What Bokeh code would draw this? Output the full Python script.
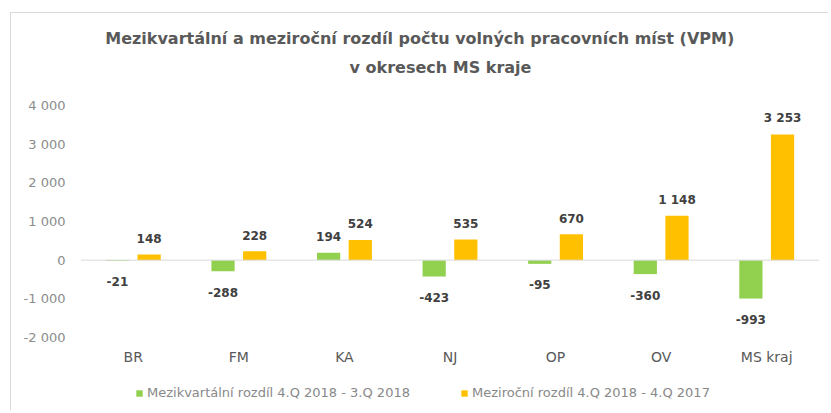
from bokeh.plotting import figure
from bokeh.models import (ColumnDataSource, FactorRange, FixedTicker, CustomJSTickFormatter,
                          Span, Label, Legend, LegendItem, Range1d)
from bokeh.transform import dodge
from bokeh.core.properties import value
from bokeh.embed import file_html
from bokeh.resources import INLINE

# ---- data ----
categories = ["BR", "FM", "KA", "NJ", "OP", "OV", "MS kraj"]
mezikvartalni = [-21, -288, 194, -423, -95, -360, -993]
mezirocni = [148, 228, 524, 535, 670, 1148, 3253]
y_ticks = [-2000, -1000, 0, 1000, 2000, 3000, 4000]
series_names = ["Mezikvartální rozdíl 4.Q 2018 - 3.Q 2018", "Meziroční rozdíl 4.Q 2018 - 4.Q 2017"]
title_lines = ["Mezikvartální a meziroční rozdíl počtu volných pracovních  míst (VPM)",
               "v okresech MS kraje"]

GREEN = "#92D050"
YELLOW = "#FFC000"
FONT = "DejaVu Sans"

# ---- layout (pixels) ----
W, H = 818, 398
AXIS_MIN, AXIS_MAX = -2000, 4000      # value axis span shown by the ticks
PLOT_TOP_PX, PLOT_BOTTOM_PX = 92, 324  # where AXIS_MAX / AXIS_MIN sit inside the canvas
per_px = (AXIS_MAX - AXIS_MIN) / (PLOT_BOTTOM_PX - PLOT_TOP_PX)
y_start = AXIS_MIN - (H - PLOT_BOTTOM_PX) * per_px
y_end = AXIS_MAX + PLOT_TOP_PX * per_px


def fmt(v):
    return f"{v:,}".replace(",", " ")


src = ColumnDataSource(dict(
    cat=categories,
    v1=mezikvartalni,
    v2=mezirocni,
    t1=[fmt(v) for v in mezikvartalni],
    t2=[fmt(v) for v in mezirocni],
    o1=[-16 if v >= 0 else 21 for v in mezikvartalni],
    o2=[-16 if v >= 0 else 21 for v in mezirocni],
))

p = figure(width=W, height=H, x_range=FactorRange(factors=categories),
           y_range=Range1d(y_start, y_end), output_backend="svg", toolbar_location=None,
           min_border_left=69, min_border_right=10, min_border_top=0, min_border_bottom=0)
p.styles = {"border-top": "1px solid #d9d9d9", "border-left": "1px solid #d9d9d9",
            "margin-top": "12px", "margin-left": "10px"}
p.xgrid.visible = False
p.ygrid.visible = False
p.outline_line_color = None
p.background_fill_color = "white"
p.border_fill_color = "white"

r1 = p.vbar(x=dodge("cat", -0.15, range=p.x_range), top="v1", width=0.22, source=src,
            fill_color=GREEN, line_color=None)
r2 = p.vbar(x=dodge("cat", 0.15, range=p.x_range), top="v2", width=0.22, source=src,
            fill_color=YELLOW, line_color=None)

p.add_layout(Span(location=0, dimension="width", line_color="#d9d9d9", line_width=1))

for col, tcol, ocol, dx in (("v1", "t1", "o1", -0.15), ("v2", "t2", "o2", 0.15)):
    p.text(x=dodge("cat", dx, range=p.x_range), y=col, text=tcol, y_offset=ocol, source=src,
           text_align="center", text_baseline="middle", text_font=value(FONT),
           text_font_size="12px", text_font_style="bold", text_color="#404040")

# axes
p.yaxis.ticker = FixedTicker(ticks=y_ticks)
p.yaxis.formatter = CustomJSTickFormatter(code="""
const s = Math.abs(tick).toFixed(0).replace(/\\B(?=(\\d{3})+(?!\\d))/g, ' ');
return (tick < 0 ? '-' : '') + s;
""")
p.yaxis.axis_line_color = None
p.yaxis.major_tick_line_color = None
p.yaxis.minor_tick_line_color = None
p.yaxis.major_tick_out = 0
p.yaxis.major_tick_in = 0
p.yaxis.major_label_standoff = 15
p.yaxis.major_label_text_font = FONT
p.yaxis.major_label_text_font_size = "13px"
p.yaxis.major_label_text_color = "#8c8c8c"

p.xaxis.fixed_location = AXIS_MIN
p.xaxis.axis_line_color = None
p.xaxis.major_tick_line_color = None
p.xaxis.minor_tick_line_color = None
p.xaxis.major_tick_out = 0
p.xaxis.major_tick_in = 0
p.xaxis.major_label_standoff = 11
p.xaxis.major_label_text_font = FONT
p.xaxis.major_label_text_font_size = "14px"
p.xaxis.major_label_text_color = "#595959"

# title (two lines) -- screen units measured from the frame's bottom-left
p.add_layout(Label(x=342, y=H - 38 + 13 + 0, x_units="screen", y_units="screen", text=title_lines[0],
                   text_align="center", text_baseline="alphabetic", text_font=FONT,
                   text_font_size="16px", text_font_style="bold", text_color="#595959"))
p.add_layout(Label(x=360, y=H - 67 + 13, x_units="screen", y_units="screen", text=title_lines[1],
                   text_align="center", text_baseline="alphabetic", text_font=FONT,
                   text_font_size="16px", text_font_style="bold", text_color="#595959"))

# legends
for rend, name, x0 in ((r1, series_names[0], 55), (r2, series_names[1], 380)):
    lg = Legend(items=[LegendItem(label=name, renderers=[rend])], location=(x0, 11),
                orientation="horizontal", glyph_width=8, glyph_height=8, label_height=12,
                label_standoff=4, padding=0, margin=0, border_line_color=None,
                background_fill_alpha=0, label_text_font=FONT, label_text_font_size="13px",
                label_text_color="#888888")
    p.add_layout(lg)

open("out.html", "w").write(file_html(p, INLINE))
